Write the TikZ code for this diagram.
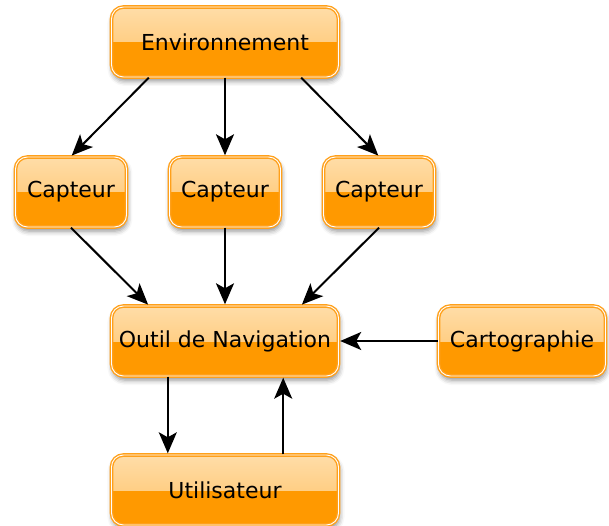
\documentclass[tikz,border=0pt]{standalone}
\usepackage{fontspec}
\setmainfont{DejaVu Sans}
\usetikzlibrary{arrows.meta,positioning,shadows.blur}
\definecolor{boxorange}{HTML}{FF9900}
\definecolor{boxlight}{HTML}{FFDDA8}
\definecolor{boxmid}{HTML}{FFC062}
\definecolor{boxrim}{HTML}{FFA01A}

\begin{document}
\begin{tikzpicture}[->,>={Stealth[length=21pt,width=18pt,inset=5pt]},shorten >=1pt,
                    node distance=150pt,on grid,line width=2pt,
                    x=1pt,y=1pt]
    \tikzset{
      block/.style={
        rectangle,
        rounded corners=12pt,
        draw=boxrim,
        double=white,
        double distance=0.9pt,
        line width=1.4pt,
        fill=boxorange,
        blur shadow={shadow xshift=1pt, shadow yshift=-4pt,
                     shadow blur radius=5pt, shadow opacity=45},
        path picture={\fill[sharp corners, top color=boxlight, bottom color=boxmid]
          (path picture bounding box.north west) rectangle (path picture bounding box.east);},
        minimum height=70pt,
        inner sep=0pt,
        font=\fontsize{22}{26}\selectfont
      },
      wide/.style={minimum width=227pt},
      small/.style={minimum width=111pt}
    }

    \useasboundingbox (-225,42) rectangle (384,-484);

    % Boxes
    \node [block, wide]  (env)    at (0,0)             {Environnement};
    \node [block, small] (capt2)  [below=of env]       {Capteur};
    \node [block, small] (capt1)  [left=154pt of capt2]  {Capteur};
    \node [block, small] (capt3)  [right=154pt of capt2] {Capteur};
    \node [block, wide]  (outil)  [below=149pt of capt2] {Outil de Navigation};
    \node [block, minimum width=167pt] (carto) [right=297pt of outil] {Cartographie};
    \node [block, wide]  (user)   [below=149pt of outil] {Utilisateur};

    % Connectors
    \path
        ([xshift=38pt]env.south west)  edge (capt1.north)
        (env.south)                    edge (capt2.north)
        ([xshift=-38pt]env.south east) edge (capt3.north);

    \path
        (capt1.south) edge ([xshift=38pt]outil.north west)
        (capt2.south) edge (outil.north)
        (capt3.south) edge ([xshift=-38pt]outil.north east);

    \path
        (carto.west) edge (outil.east)
        ([xshift=57pt]outil.south west) edge ([xshift=57pt]user.north west)
        ([xshift=-56pt]user.north east) edge ([xshift=-56pt]outil.south east);
\end{tikzpicture}
\end{document}
